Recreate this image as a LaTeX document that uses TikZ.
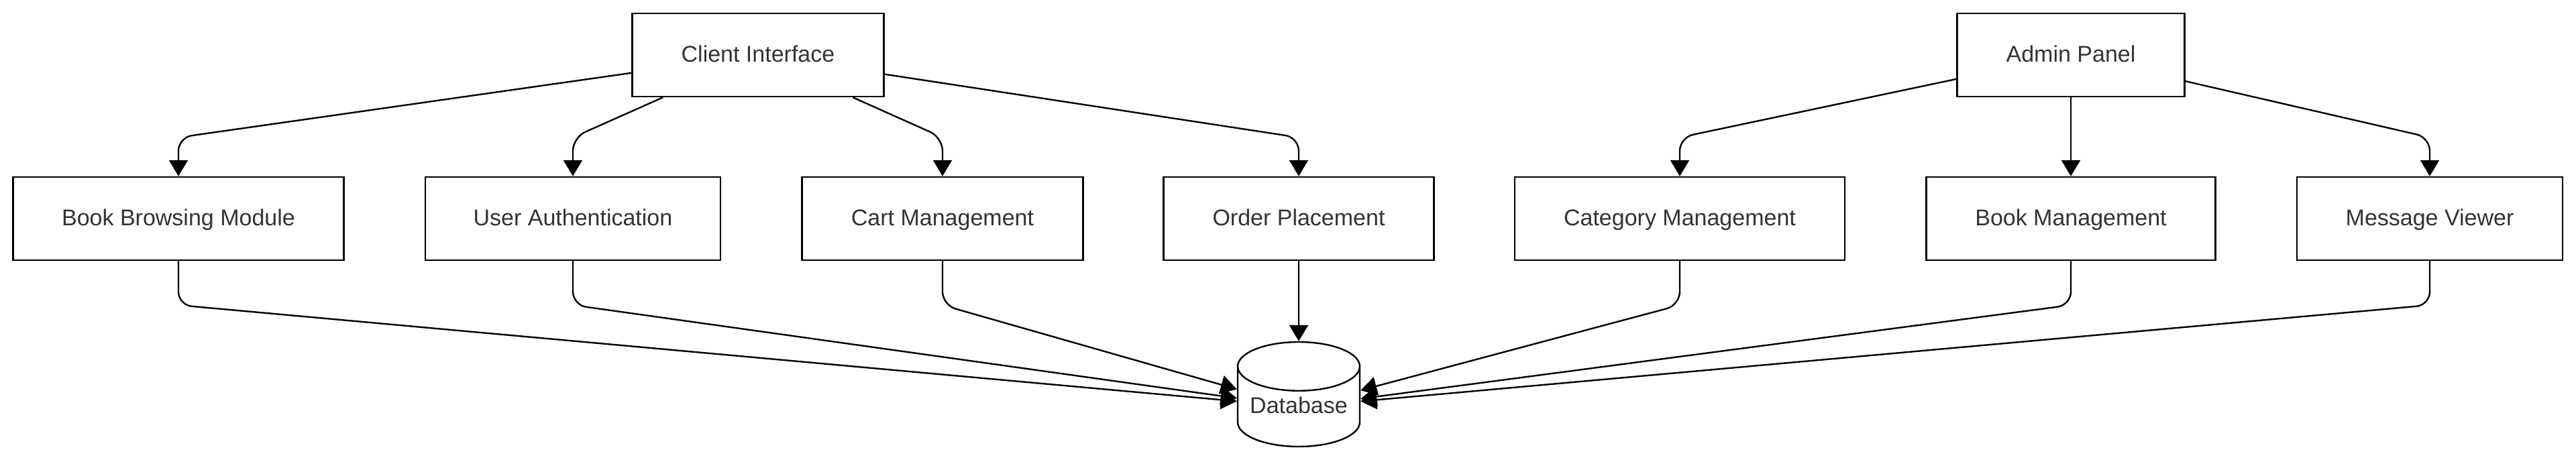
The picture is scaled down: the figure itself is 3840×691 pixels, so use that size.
\documentclass[tikz,border=0pt]{standalone}
\usepackage{fontspec}
\setmainfont{Liberation Sans}
\usetikzlibrary{arrows.meta,shapes.geometric}
\definecolor{inkgray}{HTML}{333333}

\begin{document}
\begin{tikzpicture}[
    x=0.5pt, y=-0.5pt,
    box/.style={draw, line width=1.2pt, text=inkgray,
                font=\fontsize{17}{20}\selectfont,
                text height=1em, text depth=0pt,
                minimum height=62pt, inner sep=0pt},
    store/.style={draw, line width=1.2pt, text=inkgray,
                font=\fontsize{17}{20}\selectfont,
                text height=1em, text depth=0pt,
                cylinder, shape border rotate=90, aspect=0.5,
                minimum width=91pt, minimum height=78pt, inner sep=0pt},
    link/.style={line width=1.2pt, rounded corners=10pt,
                 -{Triangle[length=12pt,width=14pt]}}
]
\useasboundingbox (0,0) rectangle (3840,691);

% --- bend heights for the connectors ---
\coordinate (upperbend) at (0,205);
\coordinate (lowerbend) at (0,455);

% =========================================================
% top row: the two entry points
% =========================================================
\node[box, minimum width=187.5pt] (client) at (1130,82) {Client Interface};
\node[box, minimum width=169.5pt] (admin)  at (3087,82) {Admin Panel};

% =========================================================
% middle row: the modules
% =========================================================
\node[box, minimum width=246.5pt] (browse)   at (266,326)  {Book Browsing Module};
\node[box, minimum width=220pt]   (auth)     at (854,326)  {User Authentication};
\node[box, minimum width=209.5pt] (cart)     at (1405,326) {Cart Management};
\node[box, minimum width=201.5pt] (order)    at (1936,326) {Order Placement};
\node[box, minimum width=246pt]   (category) at (2504,326) {Category Management};
\node[box, minimum width=215.5pt] (bookmgmt) at (3087,326) {Book Management};
\node[box, minimum width=198pt]   (viewer)   at (3622,326) {Message Viewer};

% =========================================================
% bottom: the shared store
% =========================================================
\node[store, anchor=shape center] (db) at (1936,588) {Database};

% client side
\foreach \m in {browse,auth,cart,order}
  \draw[link] (client) -- (\m |- upperbend) -- (\m);

% admin side
\foreach \m in {category,bookmgmt,viewer}
  \draw[link] (admin) -- (\m |- upperbend) -- (\m);

% every module writes to the database
\foreach \m in {browse,auth,cart,category,bookmgmt,viewer}
  \draw[link] (\m.south) -- (\m |- lowerbend) -- (db);
\draw[link] (order) -- (db);

\end{tikzpicture}
\end{document}
